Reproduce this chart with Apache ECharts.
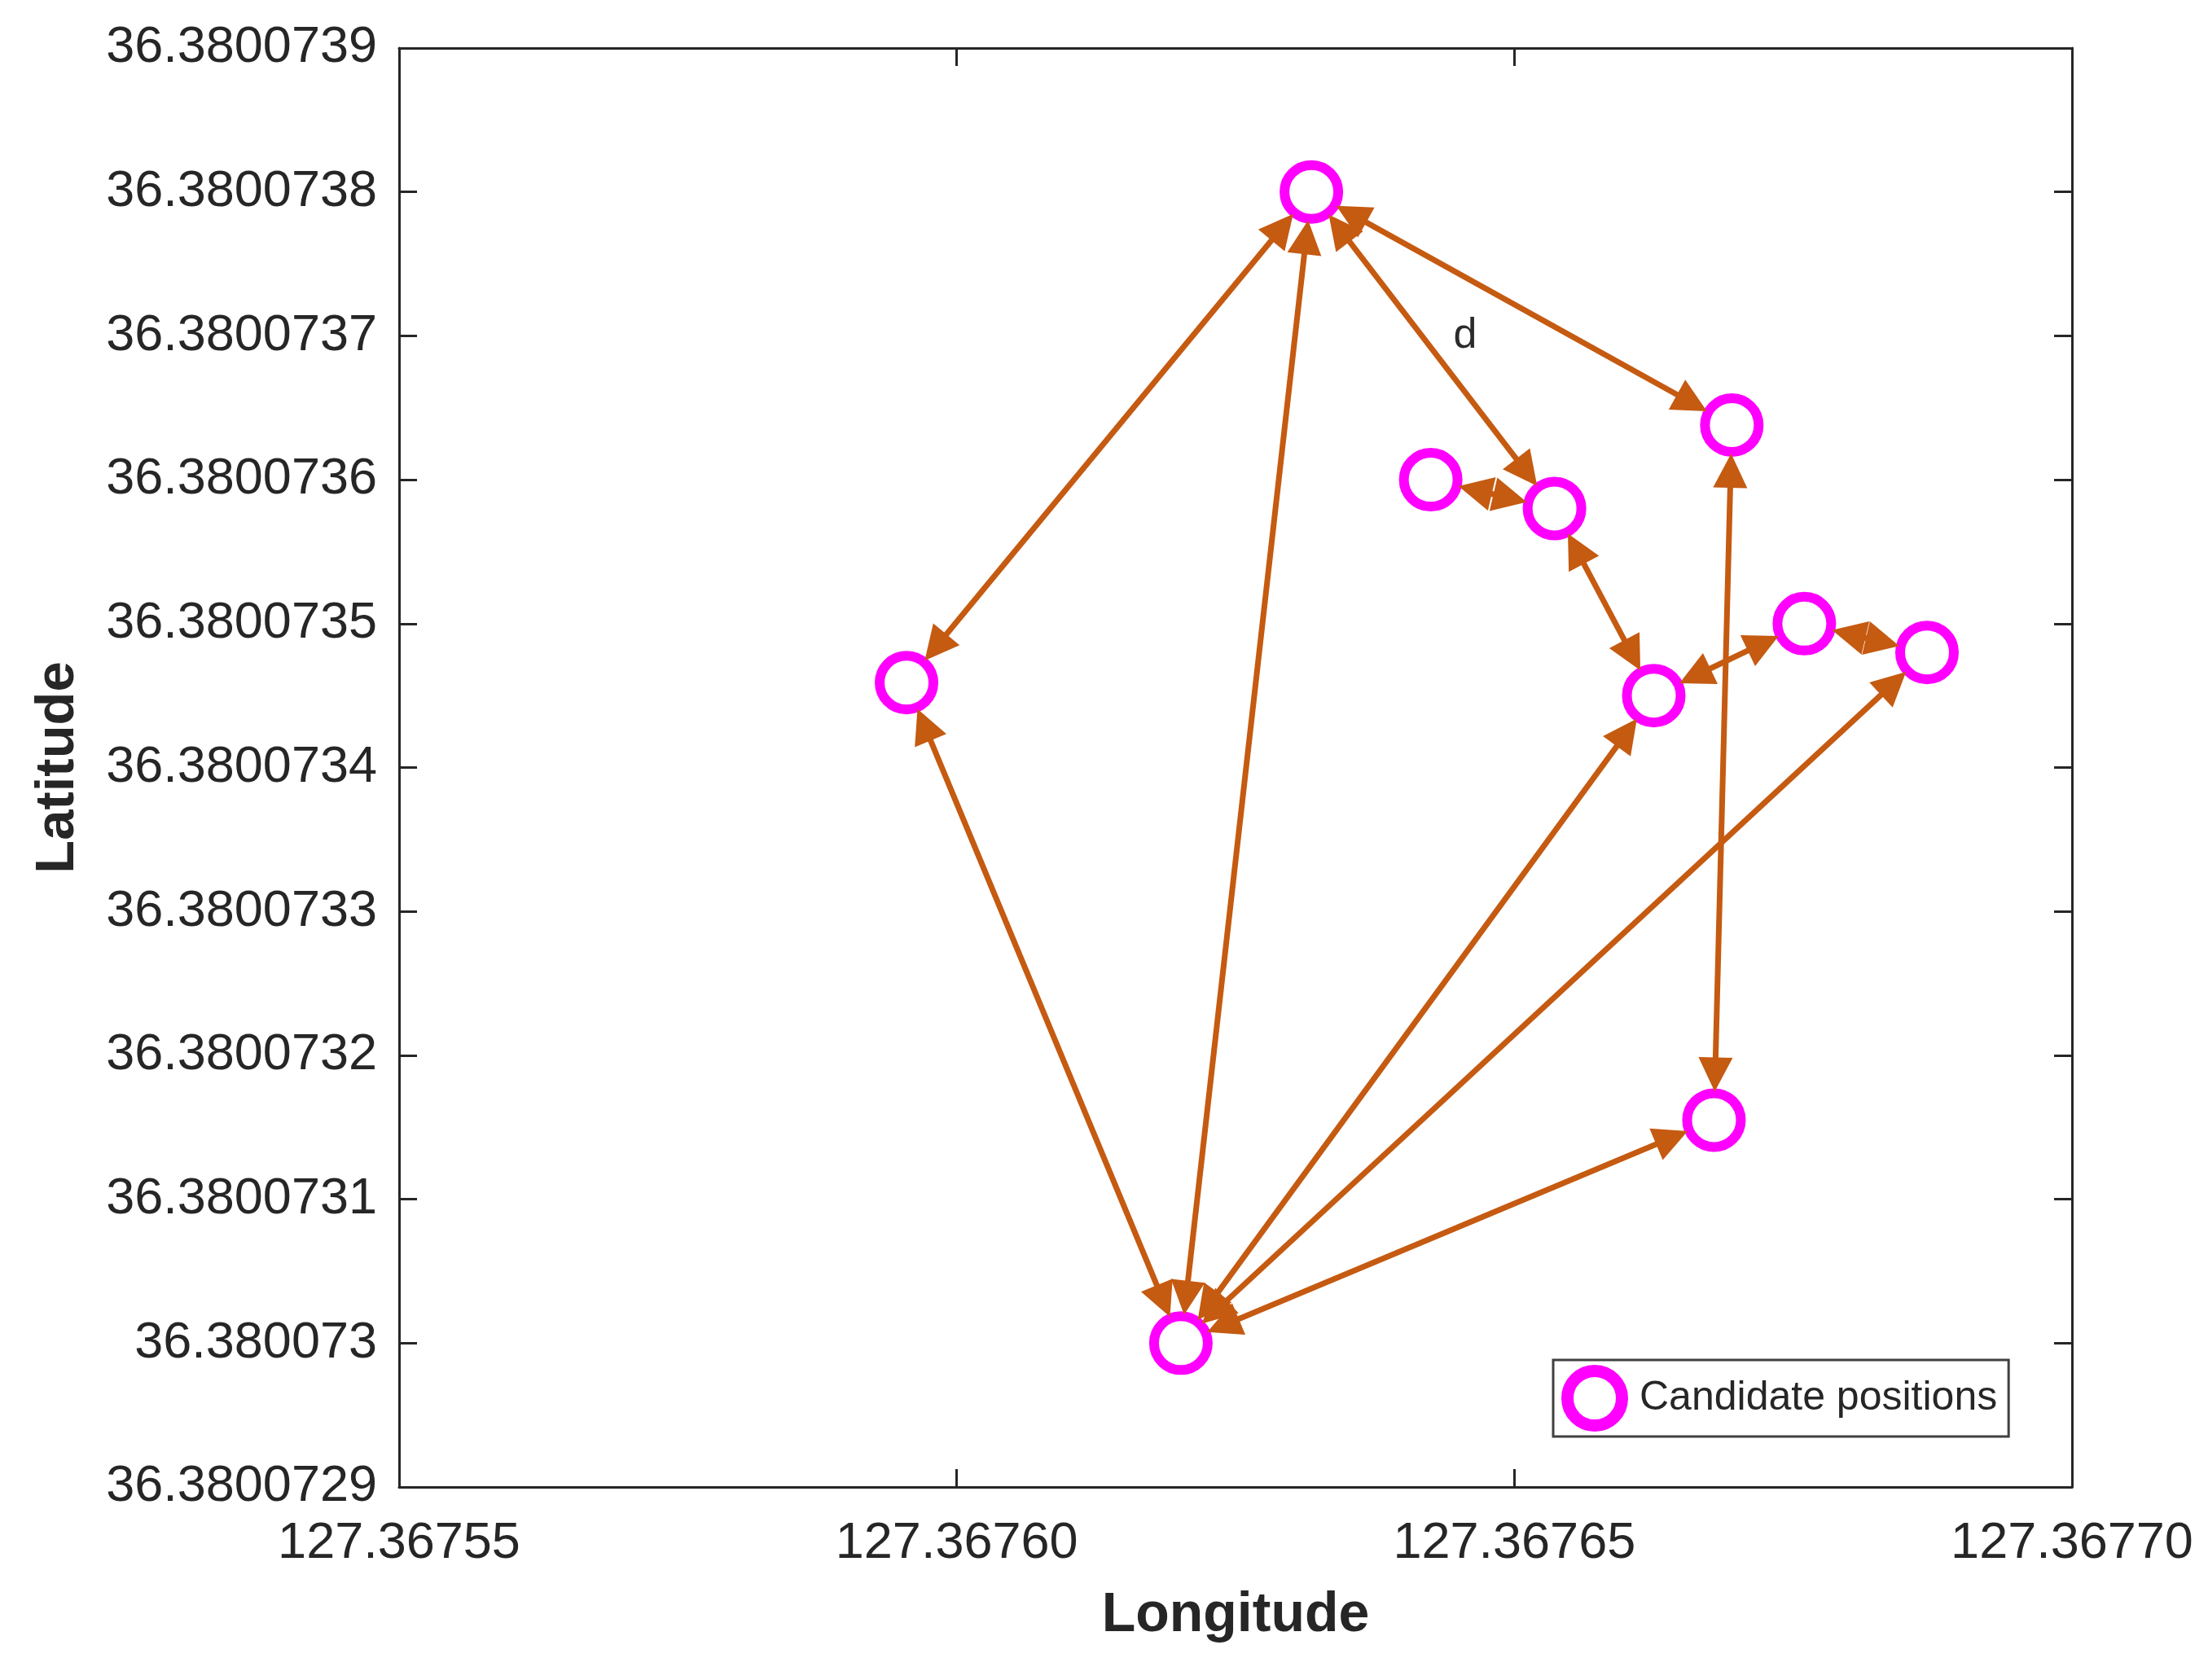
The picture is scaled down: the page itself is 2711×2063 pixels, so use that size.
<!DOCTYPE html>
<html>
<head>
<meta charset="utf-8">
<title>Candidate positions</title>
<script src="https://cdn.jsdelivr.net/npm/echarts@6/dist/echarts.min.js"></script>
<style>
  html, body { margin: 0; padding: 0; background: #fff; }
  #chart { width: 2711px; height: 2063px; }
</style>
</head>
<body>
<div id="chart"></div>
<script>
// candidate positions
var lons = [127.3676318, 127.3675955, 127.3676201, 127.3676695, 127.3676425,
            127.3676536, 127.3676625, 127.3676760, 127.3676870, 127.3676679];
var lats = [36.3800738, 36.380073459, 36.3800730, 36.380073638, 36.3800736,
            36.38007358, 36.38007345, 36.3800735, 36.38007348, 36.380073155];

// double arrows between positions (index pairs)
var links = [[0, 1], [0, 2], [0, 3], [0, 5], [4, 5], [5, 6], [6, 7], [7, 8],
             [2, 1], [2, 6], [2, 8], [2, 9], [3, 9]];

// text annotation
var noteText = ['d'];
var notePos = [[127.3676456, 36.3800737]];

// axes
var lonMin = 127.36755, lonMax = 127.36770, lonStep = 0.00005;
var latMin = 36.3800729, latMax = 36.3800739, latStep = 0.0000001;

var ink = '#262626';
var edgeColor = '#C55A11';
var ringColor = '#FF00FF';
var font = '"Liberation Sans", Arial, Helvetica, sans-serif';

var points = [];
for (var i = 0; i < lons.length; i++) {
  points.push([lons[i], lats[i]]);
}

var chart = echarts.init(document.getElementById('chart'));

function axisCommon(extra) {
  var a = {
    type: 'value',
    axisLine: { show: true, onZero: false, lineStyle: { color: ink, width: 3 } },
    axisTick: { show: true, inside: true, length: 22, lineStyle: { color: ink, width: 3 } },
    splitLine: { show: false }
  };
  for (var k in extra) a[k] = extra[k];
  return a;
}

var option = {
  backgroundColor: '#fff',
  animation: false,
  textStyle: { fontFamily: font },
  grid: { left: 490, right: 167, top: 59, bottom: 237, containLabel: false },
  legend: {
    data: ['Candidate positions'],
    left: 1907,
    top: 1670,
    orient: 'vertical',
    backgroundColor: '#fff',
    borderColor: '#404040',
    borderWidth: 3,
    borderRadius: 0,
    padding: [6, 14, 6, 10],
    itemWidth: 100,
    itemHeight: 67,
    itemStyle: { color: '#fff', borderColor: ringColor, borderWidth: 15 },
    textStyle: { fontSize: 50, color: ink, fontFamily: font },
    selectedMode: false
  },
  xAxis: [
    axisCommon({
      position: 'bottom',
      min: lonMin, max: lonMax, interval: lonStep,
      name: 'Longitude',
      nameLocation: 'middle',
      nameGap: 124,
      nameTextStyle: { fontSize: 68, fontWeight: 'bold', color: ink, fontFamily: font },
      axisLabel: {
        fontSize: 63, color: ink, margin: 38, fontFamily: font,
        formatter: function (v) { return v.toFixed(5); }
      }
    }),
    axisCommon({
      position: 'top',
      min: lonMin, max: lonMax, interval: lonStep,
      axisLabel: { show: false }
    })
  ],
  yAxis: [
    axisCommon({
      position: 'left',
      min: latMin, max: latMax, interval: latStep,
      name: 'Latitude',
      nameLocation: 'middle',
      nameGap: 385,
      nameTextStyle: { fontSize: 67, fontWeight: 'bold', color: ink, fontFamily: font },
      axisLabel: {
        fontSize: 63, color: ink, margin: 27, fontFamily: font,
        formatter: function (v) { return String(parseFloat(v.toFixed(7))); }
      }
    }),
    axisCommon({
      position: 'right',
      min: latMin, max: latMax, interval: latStep,
      axisLabel: { show: false }
    })
  ],
  series: [
    {
      name: 'Candidate positions',
      type: 'scatter',
      data: points,
      symbol: 'circle',
      symbolSize: 66,
      itemStyle: { color: '#fff', borderColor: ringColor, borderWidth: 12, opacity: 1 },
      z: 2,
      silent: true
    },
    {
      name: 'links',
      type: 'graph',
      coordinateSystem: 'cartesian2d',
      xAxisIndex: 0,
      yAxisIndex: 0,
      layout: 'none',
      roam: false,
      symbol: 'circle',
      symbolSize: 112,
      itemStyle: { opacity: 0 },
      label: { show: false },
      edgeSymbol: ['triangle', 'triangle'],
      edgeSymbolSize: 42,
      lineStyle: { color: edgeColor, width: 7, opacity: 1, curveness: 0 },
      data: points.map(function (p) { return { value: p }; }),
      links: links.map(function (l) { return { source: l[0], target: l[1] }; }),
      z: 3,
      silent: true
    },
    {
      name: 'note',
      type: 'scatter',
      data: notePos.map(function (p, i) { return { value: p, name: noteText[i] }; }),
      symbolSize: 2,
      itemStyle: { color: 'rgba(0,0,0,0)' },
      label: {
        show: true, position: 'inside', formatter: '{b}',
        fontSize: 52, color: '#2b2b2b', opacity: 1, fontFamily: font
      },
      z: 4,
      silent: true
    }
  ]
};

chart.setOption(option);
</script>
</body>
</html>
